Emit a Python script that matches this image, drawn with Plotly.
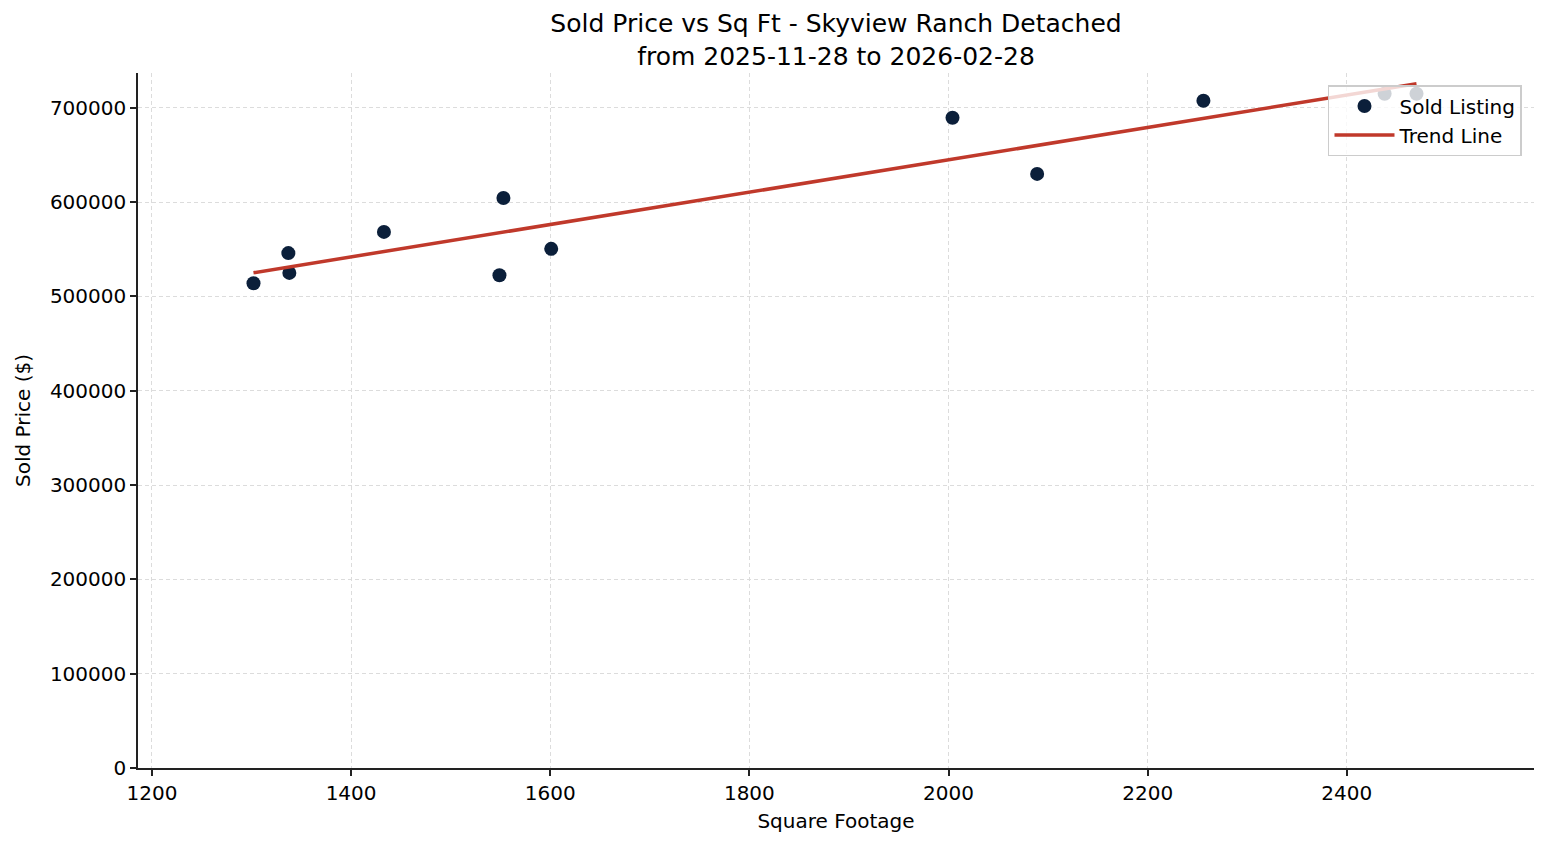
import plotly.graph_objects as go
import numpy as np

# Sold listings
sqft = [1302, 1337, 1338, 1433, 1549, 1553, 1601, 2004, 2089, 2256, 2438, 2470]
price = [514000, 546000, 525000, 568500, 522500, 604500, 550500, 689500, 630000, 707500, 715000, 715000]

x_ticks = [1200, 1400, 1600, 1800, 2000, 2200, 2400]
y_ticks = [0, 100000, 200000, 300000, 400000, 500000, 600000, 700000]

# Trend line from a linear fit
slope, intercept = np.polyfit(sqft, price, 1)
trend_x = [min(sqft), max(sqft)]
trend_y = [slope * v + intercept for v in trend_x]

fig = go.Figure()

fig.add_trace(go.Scatter(
    x=sqft, y=price, mode="markers", name="Sold Listing",
    marker=dict(color="#0b1f3a", size=14, line=dict(width=0)),
))
fig.add_trace(go.Scatter(
    x=trend_x, y=trend_y, mode="lines", name="Trend Line",
    line=dict(color="#c0392b", width=3.5),
))

axis_style = dict(
    showline=True, linecolor="#222222", linewidth=1.5,
    ticks="outside", ticklen=6, tickwidth=1.5, tickcolor="#222222",
    showgrid=True, gridcolor="#dcdcdc", griddash="4px,3px", gridwidth=0.8,
    zeroline=False, tickfont=dict(size=20, color="black"),
    mirror=False,
)

fig.update_layout(
    width=1532, height=830,
    paper_bgcolor="white", plot_bgcolor="white",
    font=dict(family="DejaVu Sans", color="black"),
    title=dict(
        text="Sold Price vs Sq Ft - Skyview Ranch Detached<br>from 2025-11-28 to 2026-02-28",
        xref="paper", x=0.5, xanchor="center", y=0.971, yanchor="top",
        font=dict(size=25, color="black"),
    ),
    margin=dict(l=130, r=6, t=65, b=70),
    showlegend=True,
    legend=dict(
        x=0.9914, y=0.9827, xanchor="right", yanchor="top",
        bgcolor="rgba(255,255,255,0.8)", bordercolor="#cccccc", borderwidth=1.5,
        font=dict(size=20, color="black"), itemwidth=60,
    ),
)

fig.update_xaxes(
    range=[1186, 2588], tickvals=x_ticks,
    title=dict(text="Square Footage", font=dict(size=20, color="black"), standoff=10),
    **axis_style,
)
fig.update_yaxes(
    range=[0, 737000], tickvals=y_ticks, tickformat="d",
    title=dict(text="Sold Price ($)", font=dict(size=20, color="black"), standoff=14),
    **axis_style,
)

fig.write_html("out.html")
